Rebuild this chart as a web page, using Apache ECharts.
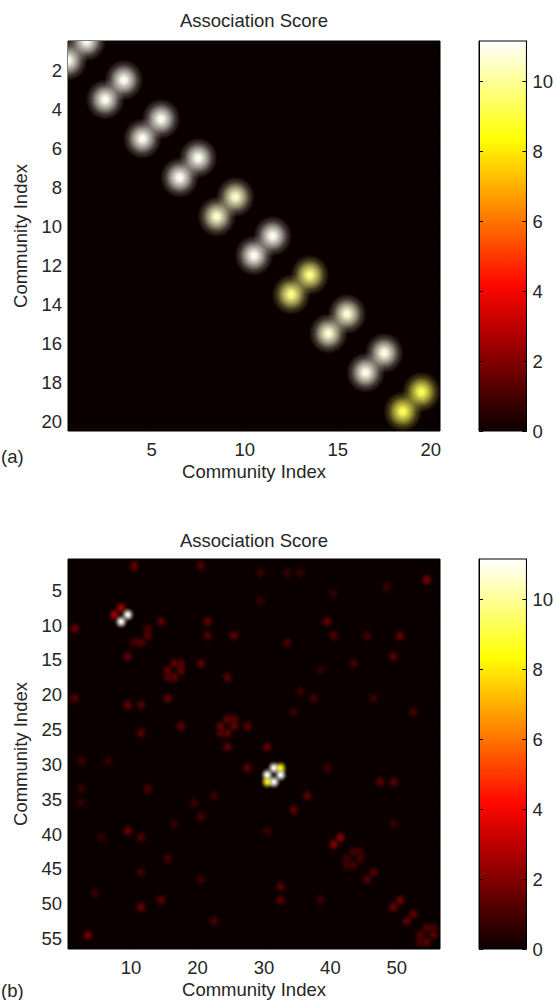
<!DOCTYPE html>
<html>
<head>
<meta charset="utf-8">
<script src="https://cdn.jsdelivr.net/npm/echarts@6/dist/echarts.min.js"></script>
<style>
  html, body { margin: 0; background: #fff; }
  #chart { width: 556px; height: 1000px; }
</style>
</head>
<body>
<div id="chart"></div>
<script>
// (a) 20 communities, paired (1,2), (3,4) ... (19,20): score between the two members
const sizeA = 20;
const pairScoresA = [11, 11, 11, 11, 10.6, 11, 9.8, 10.7, 10.9, 9.3];
const xTicksA = [5, 10, 15, 20];
const yTicksA = [2, 4, 6, 8, 10, 12, 14, 16, 18, 20];

// (b) 56 communities, symmetric matrix: [i, j, score] with i < j, all other cells 0
const sizeB = 56;
const linksB = [
    [2, 11, 1.5], [2, 21, 1.2], [3, 30, 0.8], [3, 34, 0.7], [3, 36, 0.7],
    [4, 55, 1.8], [5, 49, 0.8], [6, 41, 0.7], [7, 30, 0.7],
    [8, 9, 2.5], [9, 10, 11],
    [10, 15, 1.4], [10, 22, 1.4], [10, 40, 1.5],
    [11, 13, 1.0], [12, 13, 1.2], [12, 22, 1.2], [12, 26, 1.3], [12, 41, 1.1],
    [12, 46, 0.9], [12, 51, 1.5], [13, 34, 1.0], [15, 50, 1.3],
    [16, 17, 1.4], [17, 18, 1.4], [16, 18, 1.1], [16, 21, 1.4], [16, 44, 0.9],
    [17, 39, 0.7], [18, 25, 1.3], [20, 36, 0.8], [21, 38, 1.0], [21, 47, 0.8],
    [23, 35, 0.8], [23, 53, 1.0],
    [24, 25, 1.4], [25, 26, 1.4], [24, 26, 1.2], [25, 28, 1.3], [28, 31, 1.4],
    [31, 32, 11], [32, 33, 11], [31, 33, 8.2],
    [31, 40, 0.8], [33, 48, 1.3], [33, 50, 1.3], [35, 37, 1.3], [39, 50, 0.8],
    [41, 42, 2.0], [43, 44, 0.9], [44, 45, 0.9], [43, 45, 0.8],
    [46, 47, 1.2], [50, 51, 1.6], [52, 53, 1.4],
    [54, 55, 1.2], [55, 56, 1.3], [54, 56, 1.0]
];
const xTicksB = [10, 20, 30, 40, 50];
const yTicksB = [5, 10, 15, 20, 25, 30, 35, 40, 45, 50, 55];

const scoreMax = 11.15;
const barTicks = [0, 2, 4, 6, 8, 10];
// matlab "hot"
const hot = ['#0b0000', '#5e0000', '#b20000', '#ff0700', '#ff5a00', '#ffae00', '#ffff04', '#ffff82', '#ffffff'];

const font = 'Liberation Sans, Arial, sans-serif';
const ink = '#262626';

function emptyMatrix(n) {
    const m = [];
    for (let i = 1; i <= n; i++) {
        m[i] = [];
        for (let j = 1; j <= n; j++) m[i][j] = 0;
    }
    return m;
}

function toCells(m, n) {
    const out = [];
    for (let r = 1; r <= n; r++)
        for (let c = 1; c <= n; c++) out.push([c, r, m[r][c]]);
    // brighter cells on top
    return out.sort((a, b) => a[2] - b[2]);
}

const matA = emptyMatrix(sizeA);
pairScoresA.forEach((v, k) => {
    const a = 2 * k + 1, b = 2 * k + 2;
    matA[a][b] = v;
    matA[b][a] = v;
});
const matB = emptyMatrix(sizeB);
linksB.forEach(([i, j, v]) => {
    matB[i][j] = v;
    matB[j][i] = v;
});

// soft cell: colour from the visualMap, fading out over about one cell
function renderCell(params, api) {
    const p = api.coord([api.value(0) - 0.5, api.value(1) - 0.5]);
    const s = api.size([1, 1]);
    const color = api.visual('color');
    const fade = a => echarts.color.modifyAlpha(color, a);
    const w = s[0] * 2.1, h = s[1] * 2.1;
    const area = params.coordSys;
    return {
        type: 'rect',
        shape: { x: p[0] - w / 2, y: p[1] - h / 2, width: w, height: h },
        clipPath: {
            type: 'rect',
            shape: { x: area.x, y: area.y, width: area.width, height: area.height }
        },
        style: {
            fill: {
                type: 'radial', x: 0.5, y: 0.5, r: 0.5,
                colorStops: [
                    { offset: 0, color: fade(1) },
                    { offset: 0.15, color: fade(0.95) },
                    { offset: 0.45, color: fade(0.6) },
                    { offset: 0.72, color: fade(0.22) },
                    { offset: 1, color: fade(0) }
                ]
            }
        }
    };
}

const plots = [
    { top: 41, n: sizeA, xt: xTicksA, yt: yTicksA },
    { top: 559, n: sizeB, xt: xTicksB, yt: yTicksB }
];

const grid = [], xAxis = [], yAxis = [], series = [], visualMap = [];

plots.forEach((p, k) => {
    grid.push({
        left: 68, top: p.top, width: 372, height: 390,
        show: true, borderColor: '#000', borderWidth: 1, backgroundColor: hot[0]
    });
    xAxis.push({
        gridIndex: k, type: 'value', min: 0.5, max: p.n + 0.5,
        name: 'Community Index', nameLocation: 'middle', nameGap: 31,
        nameTextStyle: { fontSize: 18.5, fontFamily: font, color: ink },
        axisLine: { show: false },
        axisTick: { inside: true, length: 5, customValues: p.xt, lineStyle: { color: '#000' } },
        axisLabel: { customValues: p.xt, margin: 9, fontSize: 18.5, fontFamily: font, color: ink },
        splitLine: { show: false }
    });
    yAxis.push({
        gridIndex: k, type: 'value', min: 0.5, max: p.n + 0.5, inverse: true,
        name: 'Community Index', nameLocation: 'middle', nameGap: 38,
        nameTextStyle: { fontSize: 18.5, fontFamily: font, color: ink },
        axisLine: { show: false },
        axisTick: { inside: true, length: 5, customValues: p.yt, lineStyle: { color: '#000' } },
        axisLabel: { customValues: p.yt, margin: 6, fontSize: 18.5, fontFamily: font, color: ink },
        splitLine: { show: false }
    });
    series.push({
        type: 'custom', coordinateSystem: 'cartesian2d',
        xAxisIndex: k, yAxisIndex: k,
        data: toCells(k === 0 ? matA : matB, p.n),
        encode: { x: 0, y: 1 },
        renderItem: renderCell, clip: true, silent: true
    });
    visualMap.push({
        type: 'continuous', seriesIndex: k, dimension: 2,
        min: 0, max: scoreMax, inRange: { color: hot },
        orient: 'vertical', left: 479, top: p.top,
        itemWidth: 48, itemHeight: 390, padding: 0,
        calculable: false, hoverLink: false
    });
});

// colour bars: axes laid over the visualMap strips
plots.forEach((p, k) => {
    const g = 2 + k;
    grid.push({
        left: 479, top: p.top, width: 48, height: 390, z: 10,
        show: true, borderColor: '#000', borderWidth: 1, backgroundColor: 'transparent'
    });
    xAxis.push({ gridIndex: g, type: 'value', min: 0, max: 1, show: false });
    ['left', 'right'].forEach(side => {
        yAxis.push({
            gridIndex: g, type: 'value', position: side, min: 0, max: scoreMax, z: 10,
            axisLine: { show: true, lineStyle: { color: '#000' } },
            axisTick: { inside: true, length: 4, customValues: barTicks, lineStyle: { color: '#000' } },
            axisLabel: {
                show: side === 'right', customValues: barTicks, margin: 6,
                fontSize: 18.5, fontFamily: font, color: ink
            },
            splitLine: { show: false }
        });
    });
});

const label = (text, x, y, align) => ({
    type: 'text', x: x, y: y,
    style: { text: text, fill: ink, font: '18.5px ' + font, align: align, verticalAlign: 'middle' }
});

const chart = echarts.init(document.getElementById('chart'), null, { renderer: 'svg' });
chart.setOption({
    animation: false,
    grid, xAxis, yAxis, series, visualMap,
    graphic: [
        label('Association Score', 254, 20, 'center'),
        label('Association Score', 254, 540, 'center'),
        label('(a)', 1, 456, 'left'),
        label('(b)', 1, 990, 'left')
    ]
});
</script>
</body>
</html>
